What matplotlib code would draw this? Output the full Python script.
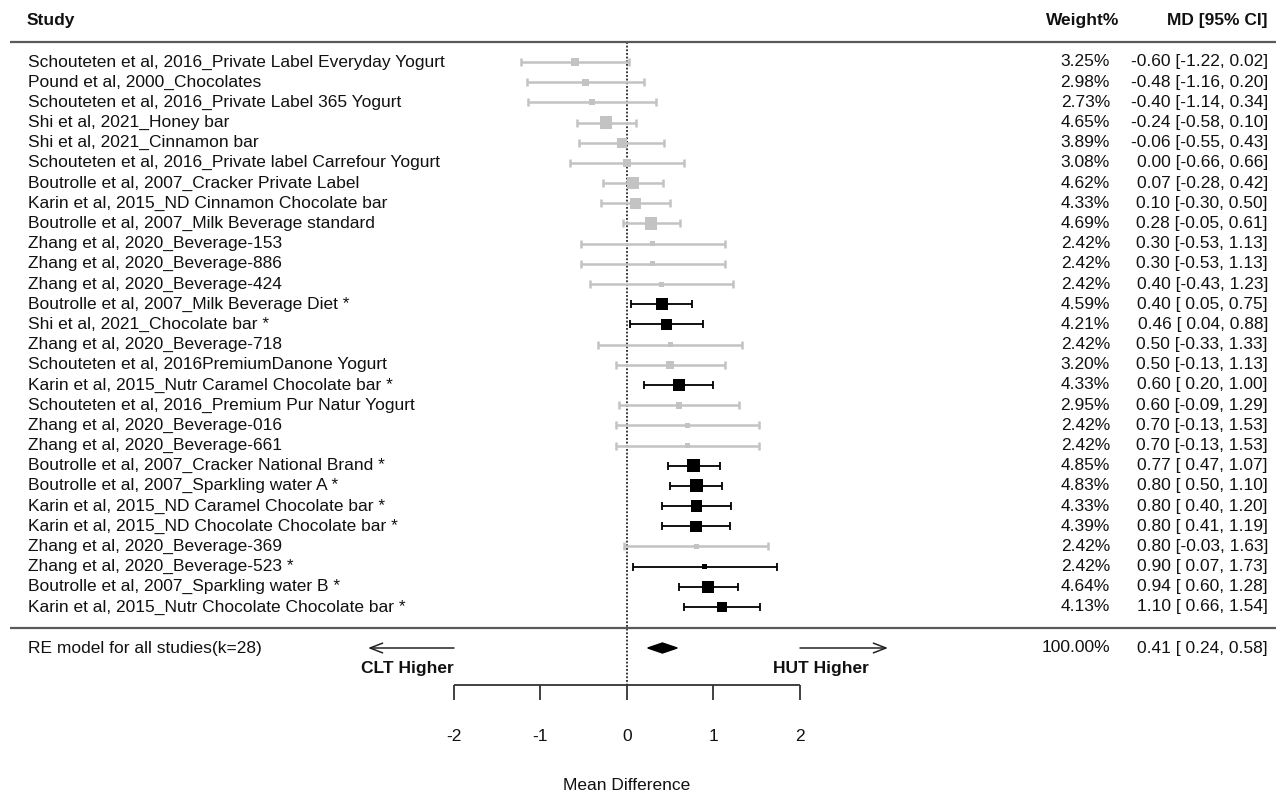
import numpy as np
import matplotlib
matplotlib.use("Agg")
import matplotlib.pyplot as plt

plt.rcParams['font.family'] = ['Liberation Sans', 'DejaVu Sans']

studies = [
    "Schouteten et al, 2016_Private Label Everyday Yogurt",
    "Pound et al, 2000_Chocolates",
    "Schouteten et al, 2016_Private Label 365 Yogurt",
    "Shi et al, 2021_Honey bar",
    "Shi et al, 2021_Cinnamon bar",
    "Schouteten et al, 2016_Private label Carrefour Yogurt",
    "Boutrolle et al, 2007_Cracker Private Label",
    "Karin et al, 2015_ND Cinnamon Chocolate bar",
    "Boutrolle et al, 2007_Milk Beverage standard",
    "Zhang et al, 2020_Beverage-153",
    "Zhang et al, 2020_Beverage-886",
    "Zhang et al, 2020_Beverage-424",
    "Boutrolle et al, 2007_Milk Beverage Diet *",
    "Shi et al, 2021_Chocolate bar *",
    "Zhang et al, 2020_Beverage-718",
    "Schouteten et al, 2016PremiumDanone Yogurt",
    "Karin et al, 2015_Nutr Caramel Chocolate bar *",
    "Schouteten et al, 2016_Premium Pur Natur Yogurt",
    "Zhang et al, 2020_Beverage-016",
    "Zhang et al, 2020_Beverage-661",
    "Boutrolle et al, 2007_Cracker National Brand *",
    "Boutrolle et al, 2007_Sparkling water A *",
    "Karin et al, 2015_ND Caramel Chocolate bar *",
    "Karin et al, 2015_ND Chocolate Chocolate bar *",
    "Zhang et al, 2020_Beverage-369",
    "Zhang et al, 2020_Beverage-523 *",
    "Boutrolle et al, 2007_Sparkling water B *",
    "Karin et al, 2015_Nutr Chocolate Chocolate bar *",
]
weights = [3.25, 2.98, 2.73, 4.65, 3.89, 3.08, 4.62, 4.33, 4.69, 2.42, 2.42, 2.42,
           4.59, 4.21, 2.42, 3.20, 4.33, 2.95, 2.42, 2.42, 4.85, 4.83, 4.33, 4.39,
           2.42, 2.42, 4.64, 4.13]
md = [-0.60, -0.48, -0.40, -0.24, -0.06, 0.00, 0.07, 0.10, 0.28, 0.30, 0.30, 0.40,
      0.40, 0.46, 0.50, 0.50, 0.60, 0.60, 0.70, 0.70, 0.77, 0.80, 0.80, 0.80,
      0.80, 0.90, 0.94, 1.10]
ci_lo = [-1.22, -1.16, -1.14, -0.58, -0.55, -0.66, -0.28, -0.30, -0.05, -0.53, -0.53, -0.43,
         0.05, 0.04, -0.33, -0.13, 0.20, -0.09, -0.13, -0.13, 0.47, 0.50, 0.40, 0.41,
         -0.03, 0.07, 0.60, 0.66]
ci_hi = [0.02, 0.20, 0.34, 0.10, 0.43, 0.66, 0.42, 0.50, 0.61, 1.13, 1.13, 1.23,
         0.75, 0.88, 1.33, 1.13, 1.00, 1.29, 1.53, 1.53, 1.07, 1.10, 1.20, 1.19,
         1.63, 1.73, 1.28, 1.54]

pooled_label = "RE model for all studies(k=28)"
pooled_md, pooled_lo, pooled_hi, pooled_w = 0.41, 0.24, 0.58, 100.00
ticks = [-2, -1, 0, 1, 2]

W, H, DPI = 12.76, 7.92, 100
fig = plt.figure(figsize=(W, H), dpi=DPI)
ax = fig.add_axes([0, 0, 1, 1])
ax.axis('off')

# data coordinate frame: 1 unit = 86.5 px horizontally, 1 row = 20.185 px
px_per_unit = 86.5
x0px = 627
row_px = 20.185
row1_px = 62
ax.set_xlim(-x0px / px_per_unit, (W * DPI - x0px) / px_per_unit)
ax.set_ylim(1 + (H * DPI - row1_px) / row_px, 1 - row1_px / row_px)

def pxx(p):
    return (p - x0px) / px_per_unit

def pxy(p):
    return 1 + (p - row1_px) / row_px

n = len(studies)
rows = np.arange(1, n + 1)
md_a = np.array(md); lo_a = np.array(ci_lo); hi_a = np.array(ci_hi); w_a = np.array(weights)
sig = np.array([s.endswith('*') for s in studies])

GRAY = '#c3c3c3'
FS = 12.5
TXT = '#111111'

# separator lines
line_col = '#5a5a5a'
ax.plot([pxx(10), pxx(1276)], [pxy(42)] * 2, color=line_col, lw=1.6, solid_capstyle='butt')
ax.plot([pxx(10), pxx(1276)], [pxy(628)] * 2, color=line_col, lw=1.6, solid_capstyle='butt')

# null line
ax.plot([0, 0], [pxy(42), pxy(685)], color='black', lw=1.1, ls=(0, (1.2, 1.2)), zorder=1)

# CIs and squares
side_px = 5.0 + (w_a - w_a.min()) * 3.3
for mask, col, lw in [(~sig, GRAY, 1.8), (sig, 'black', 1.3)]:
    ax.errorbar(md_a[mask], rows[mask],
                xerr=[md_a[mask] - lo_a[mask], hi_a[mask] - md_a[mask]],
                fmt='none', ecolor=col, elinewidth=lw, capsize=2.6, capthick=lw, zorder=2)
    ax.scatter(md_a[mask], rows[mask], marker='s', s=(side_px[mask] * 72 / DPI) ** 2,
               color=col, edgecolors='none', zorder=3)

# text columns
lab_x = pxx(28)
w_x = pxx(1110)
md_x = pxx(1268)
hdr_y = pxy(21)
ax.text(pxx(27), hdr_y, "Study", ha='left', va='center', fontsize=FS, fontweight='bold', color=TXT)
ax.text(pxx(1119), hdr_y, "Weight%", ha='right', va='center', fontsize=FS, fontweight='bold', color=TXT)
ax.text(md_x, hdr_y, "MD [95% CI]", ha='right', va='center', fontsize=FS, fontweight='bold', color=TXT)

for r, s, w, m, l, h in zip(rows, studies, weights, md, ci_lo, ci_hi):
    ax.text(lab_x, r, s, ha='left', va='center', fontsize=FS, color=TXT)
    ax.text(w_x, r, f"{w:.2f}%", ha='right', va='center', fontsize=FS, color=TXT)
    ax.text(md_x, r, f"{m:.2f} [{l:5.2f}, {h:.2f}]", ha='right', va='center', fontsize=FS, color=TXT)

# pooled
re_y = pxy(648)
ax.text(lab_x, re_y, pooled_label, ha='left', va='center', fontsize=FS, color=TXT)
ax.text(w_x, re_y, f"{pooled_w:.2f}%", ha='right', va='center', fontsize=FS, color=TXT)
ax.text(md_x, re_y, f"{pooled_md:.2f} [{pooled_lo:5.2f}, {pooled_hi:.2f}]", ha='right', va='center',
        fontsize=FS, color=TXT)
dh = 5 / row_px
ax.fill([pooled_lo, pooled_md, pooled_hi, pooled_md], [re_y, re_y - dh, re_y, re_y + dh],
        color='black', zorder=3)

# arrows and direction labels
arrow_kw = dict(arrowstyle='->,head_length=0.9,head_width=0.35', color='#222222', lw=1.1,
                shrinkA=0, shrinkB=0)
ax.annotate('', xy=(pxx(368), re_y), xytext=(ticks[0], re_y), arrowprops=arrow_kw)
ax.annotate('', xy=(pxx(888), re_y), xytext=(ticks[-1], re_y), arrowprops=arrow_kw)
lab2_y = pxy(669)
ax.text(ticks[0], lab2_y, "CLT Higher", ha='right', va='center', fontsize=FS, fontweight='bold', color=TXT)
ax.text(pxx(821), lab2_y, "HUT Higher", ha='center', va='center', fontsize=FS, fontweight='bold', color=TXT)

# x axis
ax_y = pxy(685)
tick_end = pxy(700)
ax.plot([ticks[0], ticks[-1]], [ax_y, ax_y], color='#333333', lw=1.3, solid_capstyle='butt')
for t in ticks:
    ax.plot([t, t], [ax_y, tick_end], color='#333333', lw=1.3, solid_capstyle='butt')
    ax.text(t, pxy(737), f"{t:g}", ha='center', va='center', fontsize=FS, color=TXT)
ax.text(0, pxy(785), "Mean Difference", ha='center', va='center', fontsize=FS, color=TXT)

fig.savefig('out.png', dpi=DPI, facecolor='white')
